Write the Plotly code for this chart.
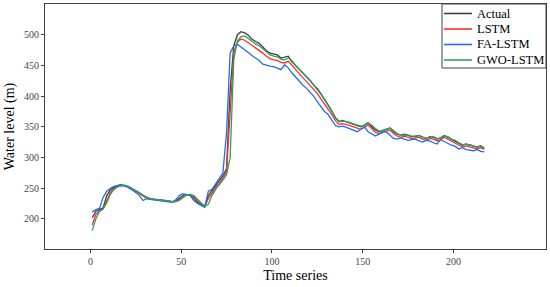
import plotly.graph_objects as go

# time steps (every second sample)
time_steps = list(range(1, 218, 2))

actual = [202, 212, 215, 218, 238, 247, 251, 254, 255, 254,
          252, 249, 245, 241, 237, 234, 232, 232, 231, 231,
          230, 229, 228, 229, 233, 238, 240, 239, 234, 227,
          224, 220, 238, 246, 254, 261, 270, 282, 410, 482,
          500, 505, 503, 499, 493, 489, 486, 480, 474, 470,
          469, 467, 462, 463, 465, 456, 450, 444, 437, 431,
          426, 418, 412, 404, 395, 386, 376, 365, 359, 360,
          358, 356, 354, 352, 350, 353, 357, 350, 345, 342,
          344, 347, 348, 342, 338, 336, 338, 336, 334, 335,
          336, 333, 331, 334, 333, 330, 332, 336, 333, 329,
          327, 323, 320, 322, 320, 318, 317, 319, 315]

lstm = [190, 207, 213, 216, 230, 243, 249, 253, 254, 254,
        252, 249, 246, 242, 238, 235, 233, 232, 231, 231,
        230, 229, 228, 228, 231, 236, 239, 239, 236, 229,
        225, 221, 233, 243, 251, 258, 266, 277, 380, 470,
        488, 493, 491, 487, 482, 478, 475, 470, 465, 461,
        459, 458, 455, 454, 457, 450, 443, 437, 430, 424,
        418, 411, 404, 396, 388, 379, 370, 360, 354, 355,
        354, 352, 350, 348, 346, 349, 353, 347, 341, 339,
        341, 344, 345, 339, 335, 333, 335, 333, 331, 332,
        333, 330, 328, 331, 330, 327, 329, 333, 330, 326,
        324, 320, 317, 319, 317, 315, 314, 316, 313]

fa_lstm = [211, 215, 217, 235, 245, 250, 253, 255, 256, 254,
           251, 247, 243, 238, 230, 233, 232, 231, 231, 230,
           229, 228, 227, 231, 238, 241, 240, 238, 230, 225,
           222, 219, 245, 248, 257, 265, 275, 340, 470, 482,
           484, 480, 476, 471, 466, 462, 458, 452, 450, 449,
           448, 445, 443, 451, 446, 438, 431, 425, 418, 413,
           407, 400, 391, 383, 375, 370, 360, 352, 350, 351,
           349, 347, 345, 342, 346, 350, 342, 338, 335, 338,
           341, 342, 336, 331, 330, 332, 330, 328, 329, 330,
           327, 325, 328, 327, 324, 322, 329, 326, 322, 320,
           318, 314, 316, 313, 312, 311, 313, 310, 309]

gwo_lstm = [181, 200, 212, 216, 226, 240, 248, 252, 254, 255,
            253, 250, 247, 243, 239, 235, 233, 232, 231, 231,
            230, 229, 228, 228, 230, 235, 239, 240, 238, 232,
            226, 220, 224, 238, 248, 255, 263, 272, 300, 460,
            490, 497, 498, 494, 489, 485, 482, 477, 472, 467,
            465, 464, 460, 459, 462, 458, 450, 444, 437, 431,
            425, 418, 411, 403, 394, 385, 375, 364, 358, 359,
            359, 357, 355, 353, 351, 352, 356, 353, 347, 343,
            343, 346, 348, 344, 339, 336, 337, 337, 335, 334,
            336, 334, 331, 333, 334, 331, 331, 335, 334, 330,
            328, 324, 321, 321, 321, 319, 317, 318, 316]

series = [
    ('Actual', actual, '#3f3f3f'),
    ('LSTM', lstm, '#ff2b2b'),
    ('FA-LSTM', fa_lstm, '#1f6cf0'),
    ('GWO-LSTM', gwo_lstm, '#2aa35a'),
]

fig = go.Figure()
for name, values, color in series:
    fig.add_trace(go.Scatter(x=time_steps, y=values, mode='lines', name=name,
                             line=dict(color=color, width=1.3), showlegend=False))

# legend drawn by hand: plotly's own legend rows can't be packed as tightly
# as in the original figure (paper coords, plot area is 501 x 245 px)
plot_w, plot_h = 501, 245
box_left = (442 - 45) / plot_w
box_bottom = (249 - 68) / plot_h
fig.add_shape(type='rect', xref='paper', yref='paper', x0=box_left, x1=1,
              y0=box_bottom, y1=1, fillcolor='white', layer='above',
              line=dict(color='#404040', width=1))
for i, (name, values, color) in enumerate(series):
    y_row = (249 - (13.5 + 15.5 * i)) / plot_h
    fig.add_shape(type='line', xref='paper', yref='paper', layer='above',
                  x0=(444 - 45) / plot_w, x1=(472 - 45) / plot_w, y0=y_row, y1=y_row,
                  line=dict(color=color, width=1.6))
    fig.add_annotation(xref='paper', yref='paper', x=(475 - 45) / plot_w, y=y_row,
                       xanchor='left', yanchor='middle', showarrow=False,
                       text=name, font=dict(size=12.5, color='black'))

axis_style = dict(showline=True, mirror=True, linecolor='#404040', linewidth=1,
                  showgrid=False, zeroline=False, ticks='outside', ticklen=3,
                  tickcolor='#404040', tickfont=dict(size=10, color='#444444'))

fig.update_layout(
    width=550, height=287,
    margin=dict(l=45, r=4, t=4, b=38),
    plot_bgcolor='white', paper_bgcolor='white',
    font=dict(family='Liberation Serif', color='black'),
    xaxis=dict(range=[-25, 251], tickvals=[0, 50, 100, 150, 200],
               title=dict(text='Time series', font=dict(size=14), standoff=4),
               **axis_style),
    yaxis=dict(range=[151, 550], tickvals=[200, 250, 300, 350, 400, 450, 500],
               title=dict(text='Water level (m)', font=dict(size=14), standoff=6),
               **axis_style),
    showlegend=False,
)

# drop the browser's default body margin so the 550x287 figure fills the window
fig.write_html("out.html", config={'displayModeBar': False},
               post_script="document.body.style.margin='0';")
